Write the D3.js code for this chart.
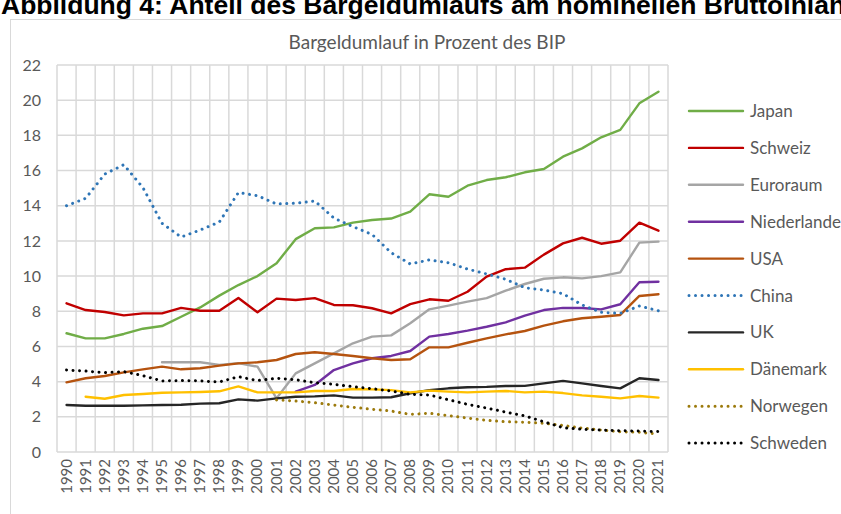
<!DOCTYPE html>
<html>
<head>
<meta charset="utf-8">
<script src="https://cdn.jsdelivr.net/npm/d3@7"></script>
<style>
  body { margin: 0; background: #fff; }
  text { font-family: Lato, "Noto Sans", sans-serif; fill: #595959; }
</style>
</head>
<body>
<div id="chart"></div>
<script>
// years on the x axis
var years = d3.range(1990, 2022);

// series values (share of cash in GDP, %), null = no data
var japan = [6.75, 6.46, 6.46, 6.71, 7.01, 7.16, 7.69, 8.22, 8.89, 9.49, 10.0, 10.73, 12.1, 12.72, 12.77, 13.04,
    13.19, 13.27, 13.66, 14.65, 14.51, 15.14, 15.46, 15.62, 15.9, 16.09, 16.79, 17.26, 17.89, 18.31, 19.82, 20.48];
var schweiz = [8.45, 8.07, 7.96, 7.77, 7.88, 7.88, 8.19, 8.03, 8.03, 8.75, 7.94, 8.72, 8.64, 8.75, 8.36, 8.34,
    8.17, 7.88, 8.41, 8.68, 8.6, 9.11, 9.97, 10.39, 10.48, 11.22, 11.86, 12.18, 11.84, 12.01, 13.04, 12.58];
var euroraum = [null, null, null, null, null, 5.1, 5.1, 5.1, 4.95, 5.05, 4.85, 3.05, 4.47, 5.04, 5.61, 6.18,
    6.56, 6.63, 7.32, 8.11, 8.32, 8.55, 8.75, 9.17, 9.55, 9.85, 9.93, 9.87, 10.0, 10.21, 11.9, 11.96];
var niederlande = [null, null, null, null, null, null, null, null, null, null, null, null, 3.43, 3.81, 4.66, 5.04,
    5.33, 5.46, 5.74, 6.56, 6.71, 6.9, 7.12, 7.37, 7.75, 8.07, 8.19, 8.19, 8.11, 8.4, 9.65, 9.68];
var usa = [3.96, 4.19, 4.32, 4.53, 4.7, 4.85, 4.7, 4.76, 4.91, 5.04, 5.1, 5.23, 5.57, 5.67, 5.57, 5.46,
    5.33, 5.23, 5.27, 5.95, 5.95, 6.21, 6.46, 6.69, 6.88, 7.18, 7.43, 7.6, 7.69, 7.79, 8.87, 8.97];
var china = [14.0, 14.42, 15.8, 16.33, 15.03, 13.0, 12.22, 12.62, 13.07, 14.75, 14.57, 14.1, 14.14, 14.27, 13.3, 12.81,
    12.37, 11.33, 10.69, 10.92, 10.76, 10.4, 10.12, 9.82, 9.34, 9.21, 9.0, 8.36, 7.94, 7.88, 8.3, 8.03];
var uk = [2.67, 2.63, 2.63, 2.63, 2.65, 2.67, 2.69, 2.75, 2.77, 2.99, 2.92, 3.05, 3.14, 3.16, 3.22, 3.09,
    3.09, 3.11, 3.34, 3.52, 3.62, 3.68, 3.7, 3.75, 3.76, 3.9, 4.04, 3.9, 3.75, 3.62, 4.19, 4.09];
var daenemark = [null, 3.14, 3.03, 3.24, 3.3, 3.37, 3.39, 3.41, 3.45, 3.73, 3.39, 3.39, 3.39, 3.47, 3.47, 3.58,
    3.56, 3.52, 3.39, 3.49, 3.43, 3.39, 3.43, 3.47, 3.39, 3.43, 3.35, 3.22, 3.14, 3.05, 3.18, 3.09];
var norwegen = [null, null, null, null, null, null, null, null, null, null, null, 2.96, 2.9, 2.8, 2.67, 2.54,
    2.43, 2.33, 2.14, 2.2, 2.07, 1.93, 1.8, 1.72, 1.69, 1.63, 1.51, 1.36, 1.25, 1.15, 1.12, 1.02];
var schweden = [4.66, 4.6, 4.51, 4.57, 4.34, 4.04, 4.06, 4.04, 3.98, 4.28, 4.06, 4.19, 4.11, 3.94, 3.85, 3.71,
    3.6, 3.47, 3.28, 3.24, 2.97, 2.71, 2.5, 2.27, 2.05, 1.72, 1.38, 1.29, 1.25, 1.21, 1.19, 1.16];

var yTicks = d3.range(0, 23, 2);

// series list in legend order
var series = [
    { name: "Japan", values: japan, color: "#70ad47", dotted: false },
    { name: "Schweiz", values: schweiz, color: "#c00000", dotted: false },
    { name: "Euroraum", values: euroraum, color: "#a5a5a5", dotted: false },
    { name: "Niederlande", values: niederlande, color: "#7030a0", dotted: false },
    { name: "USA", values: usa, color: "#b5530f", dotted: false },
    { name: "China", values: china, color: "#2e75b6", dotted: true },
    { name: "UK", values: uk, color: "#262626", dotted: false },
    { name: "Dänemark", values: daenemark, color: "#ffc000", dotted: false },
    { name: "Norwegen", values: norwegen, color: "#9c7a0c", dotted: true },
    { name: "Schweden", values: schweden, color: "#000000", dotted: true }
];

var width = 841, height = 514;
var plot = { left: 57, right: 668, top: 65, bottom: 452 };

var svg = d3.select("#chart")
    .append("svg")
    .attr("width", width)
    .attr("height", height);

// page heading, cut off at the top like in the source
svg.append("text")
    .attr("x", 1)
    .attr("y", 14)
    .style("font-family", "'Liberation Sans', Arial, sans-serif")
    .style("font-weight", "bold")
    .style("font-size", "26.5px")
    .style("fill", "#000")
    .text("Abbildung 4: Anteil des Bargeldumlaufs am nominellen Bruttoinlandsprodukt");

// chart frame
svg.append("rect")
    .attr("x", 10.5)
    .attr("y", 19.5)
    .attr("width", 900)
    .attr("height", 600)
    .attr("fill", "none")
    .attr("stroke", "#d9d9d9")
    .attr("stroke-width", 1);

svg.append("text")
    .attr("x", 427)
    .attr("y", 49)
    .attr("text-anchor", "middle")
    .style("font-size", "19px")
    .text("Bargeldumlauf in Prozent des BIP");

var xScale = d3.scaleBand()
    .domain(years)
    .range([plot.left, plot.right]);

var yScale = d3.scaleLinear()
    .domain([0, 22])
    .range([plot.bottom, plot.top]);

var xMid = function(yr) { return xScale(yr) + xScale.bandwidth() / 2; };

// gridlines
var grid = svg.append("g").attr("class", "grid");
grid.selectAll("line.h")
    .data(yTicks)
    .enter()
    .append("line")
    .attr("x1", plot.left)
    .attr("x2", plot.right)
    .attr("y1", function(d) { return yScale(d); })
    .attr("y2", function(d) { return yScale(d); })
    .attr("stroke", "#d9d9d9")
    .attr("stroke-width", 1.5);

grid.selectAll("line.v")
    .data(years.concat([2022]))
    .enter()
    .append("line")
    .attr("x1", function(d, i) { return plot.left + i * xScale.step(); })
    .attr("x2", function(d, i) { return plot.left + i * xScale.step(); })
    .attr("y1", plot.top)
    .attr("y2", plot.bottom)
    .attr("stroke", "#d9d9d9")
    .attr("stroke-width", 1.5);

// y axis labels
var yAxis = d3.axisLeft(yScale).tickValues(yTicks).tickSize(0).tickPadding(0);
var yG = svg.append("g")
    .attr("transform", "translate(41,0)")
    .call(yAxis);
yG.select(".domain").remove();
yG.selectAll("text")
    .style("font-family", "Lato, sans-serif")
    .style("font-size", "16px")
    .attr("fill", "#595959");

// x axis labels (rotated)
var xAxis = d3.axisBottom(xScale).tickSize(0).tickPadding(0);
var xG = svg.append("g")
    .attr("transform", "translate(0," + (plot.bottom + 7) + ")")
    .call(xAxis);
xG.select(".domain").remove();
xG.selectAll("text")
    .style("font-family", "Lato, sans-serif")
    .style("font-size", "15px")
    .attr("fill", "#595959")
    .attr("text-anchor", "end")
    .attr("dy", null)
    .attr("y", 0)
    .attr("transform", "rotate(-90) translate(0,5)");

// lines
var line = d3.line()
    .defined(function(d) { return d.v !== null; })
    .x(function(d) { return xMid(d.year); })
    .y(function(d) { return yScale(d.v); });

series.forEach(function(s) {
    var pts = years.map(function(yr, i) { return { year: yr, v: s.values[i] }; });
    svg.append("path")
        .datum(pts)
        .attr("d", line)
        .attr("fill", "none")
        .attr("stroke", s.color)
        .attr("stroke-width", s.dotted ? 3 : 2.4)
        .attr("stroke-linejoin", "round")
        .attr("stroke-linecap", "round")
        .attr("stroke-dasharray", s.dotted ? "0.01 6.5" : null);
});

// legend
var legend = svg.append("g")
    .attr("transform", "translate(689,111)");

var items = legend.selectAll("g")
    .data(series)
    .enter()
    .append("g")
    .attr("transform", function(d, i) { return "translate(0," + (i * 36.9) + ")"; });

items.append("line")
    .attr("x1", 0)
    .attr("x2", 54)
    .attr("stroke", function(d) { return d.color; })
    .attr("stroke-width", function(d) { return d.dotted ? 3 : 2.4; })
    .attr("stroke-linecap", "round")
    .attr("stroke-dasharray", function(d) { return d.dotted ? "0.01 6.5" : null; });

items.append("text")
    .attr("x", 61)
    .attr("y", 6)
    .style("font-size", "17px")
    .text(function(d) { return d.name; });
</script>
</body>
</html>
